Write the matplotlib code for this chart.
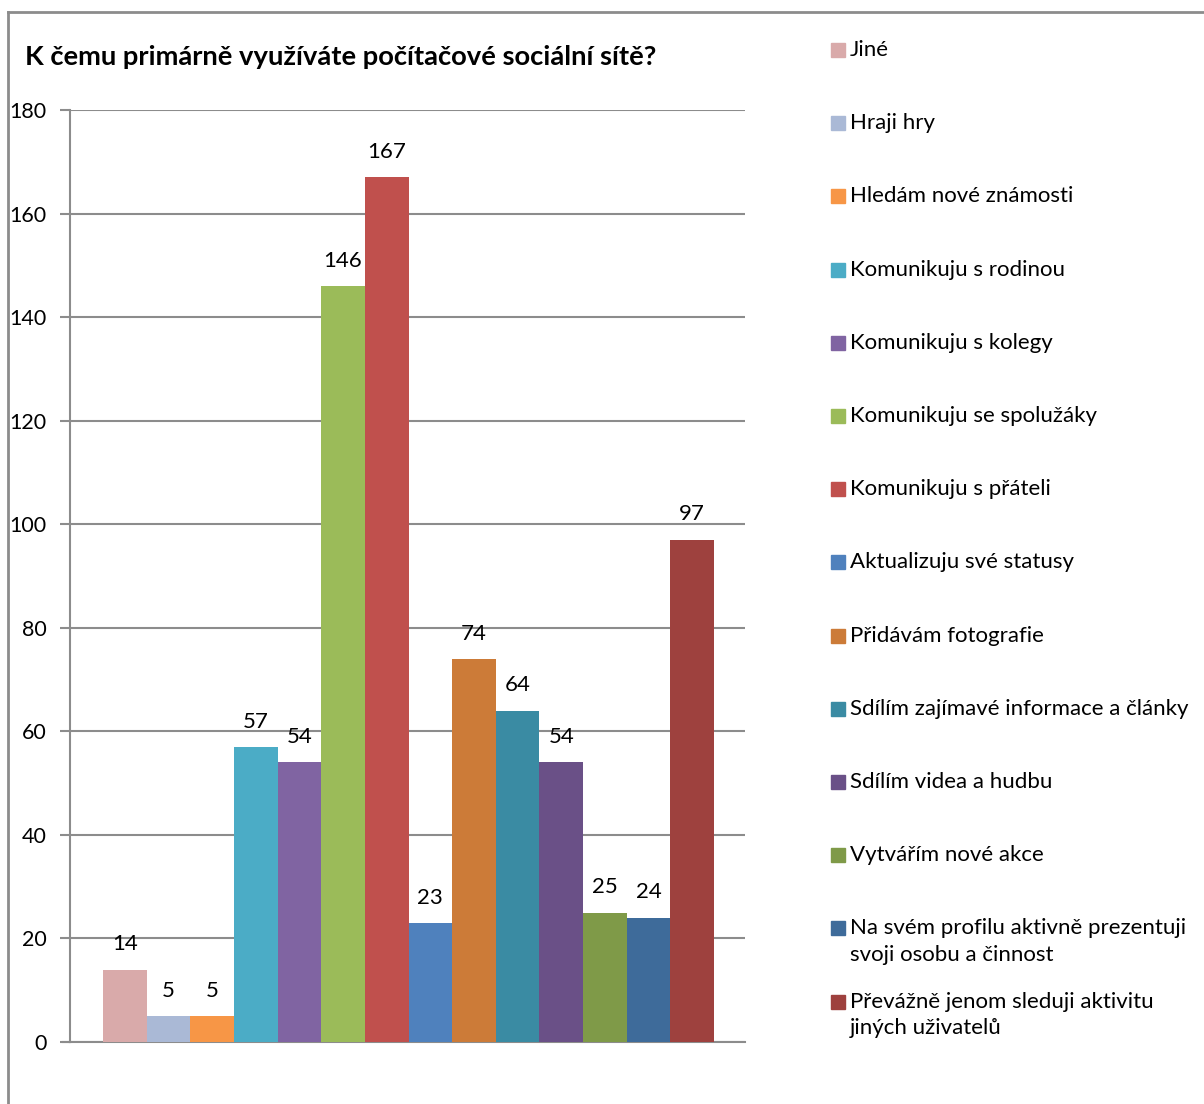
import matplotlib.pyplot as plt
from matplotlib.patches import Rectangle
from matplotlib.lines import Line2D

plt.rcParams['font.family'] = ['Lato', 'DejaVu Sans']

labels = ['Jiné', 'Hraji hry', 'Hledám nové známosti', 'Komunikuju s rodinou',
          'Komunikuju s kolegy', 'Komunikuju se spolužáky', 'Komunikuju s přáteli',
          'Aktualizuju své statusy', 'Přidávám fotografie',
          'Sdílím zajímavé informace a články', 'Sdílím videa a hudbu',
          'Vytvářím nové akce',
          'Na svém profilu aktivně prezentuji\nsvoji osobu a činnost',
          'Převážně jenom sleduji aktivitu\njiných uživatelů']
values = [14, 5, 5, 57, 54, 146, 167, 23, 74, 64, 54, 25, 24, 97]
colors = ['#D9AAAA', '#AAB9D6', '#F79646', '#4BACC6', '#8064A2', '#9BBB59',
          '#C0504D', '#4F81BD', '#CC7B38', '#3A8BA3', '#6A5087', '#7F9A48',
          '#3E6B9A', '#9E413E']
yticks = list(range(0, 181, 20))

W, H = 1204, 1104
fig = plt.figure(figsize=(W / 100, H / 100), dpi=100)
ax = fig.add_axes([70 / W, 1 - 1042 / H, 675 / W, 932 / H])

x = list(range(len(values)))
bars = ax.bar(x, values, width=1.0, color=colors, zorder=3)
for xi, v in zip(x, values):
    ax.annotate(str(v), (xi, v), xytext=(0, 11), textcoords='offset points',
                ha='center', va='bottom', fontsize=16, color='#000000')

ax.set_xlim(-1.256, 14.21)
ax.set_ylim(0, 180)
ax.set_yticks(yticks)
ax.set_xticks([])
ax.tick_params(axis='y', length=7, width=1.5, color='#8c8c8c', labelsize=15.5, pad=10)
ax.grid(axis='y', color='#8c8c8c', linewidth=1.5, zorder=0)
for s in ['top', 'right']:
    ax.spines[s].set_visible(False)
for s in ['left', 'bottom']:
    ax.spines[s].set_color('#8c8c8c')
    ax.spines[s].set_linewidth(1.5)
# zero line extends left like the tick marks
ax.plot([-1.256 - 7 / 675 * 15.466, -1.256], [0, 0], color='#8c8c8c', lw=1.5,
        clip_on=False)

fig.text(25 / W, 1 - 57 / H, 'K čemu primárně využíváte počítačové sociální sítě?',
         fontsize=19.7, fontweight='bold', ha='left', va='center')

# legend
for i, (lab, c) in enumerate(zip(labels, colors)):
    yc = 50 + i * 73.2
    fig.patches.append(Rectangle((831 / W, 1 - (yc + 7) / H), 14 / W, 14 / H,
                                 transform=fig.transFigure, color=c))
    fig.text(850 / W, 1 - (yc - 10) / H, lab, fontsize=16, ha='left', va='top',
             linespacing=1.4)

# outer chart border
fig.add_artist(Line2D([8 / W, 8 / W], [0, 1 - 12 / H], color='#8c8c8c', lw=2))
fig.add_artist(Line2D([8 / W, 1], [1 - 12 / H, 1 - 12 / H], color='#8c8c8c', lw=2))

fig.savefig('out.png', dpi=100)
